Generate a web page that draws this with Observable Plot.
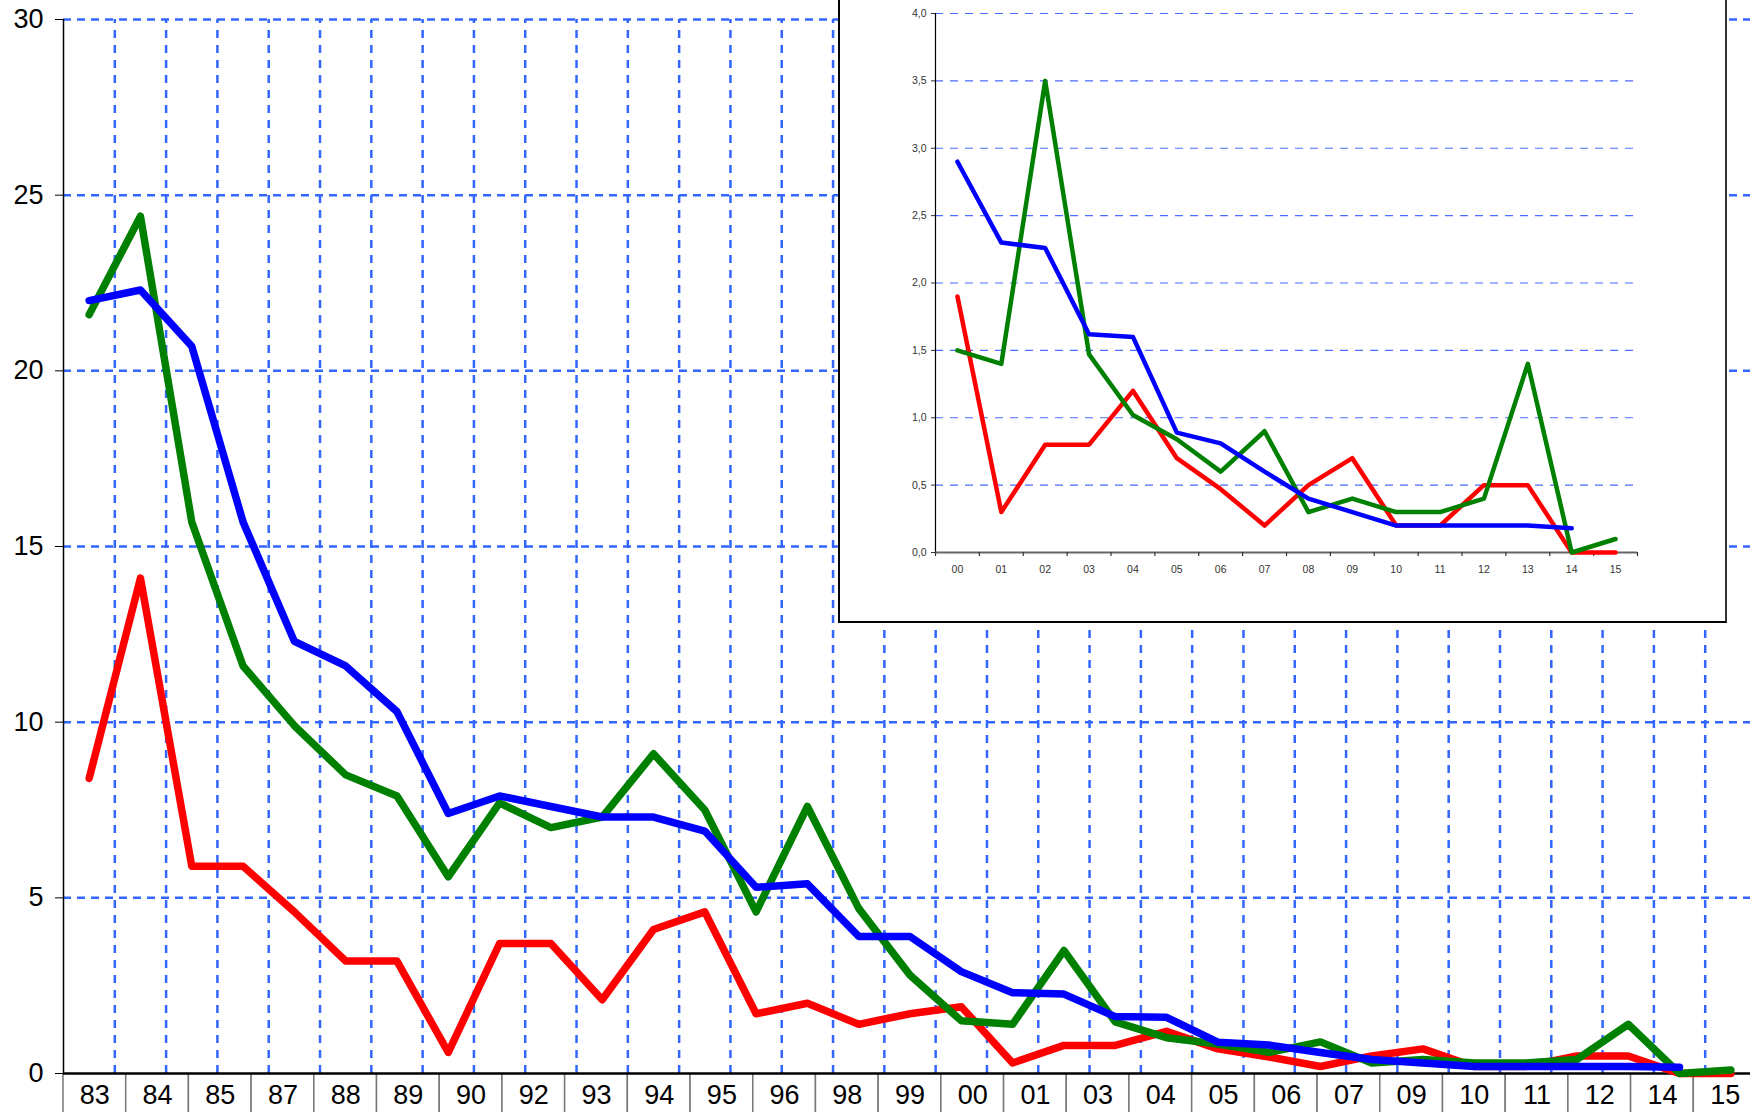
<!DOCTYPE html>
<html><head><meta charset="utf-8">
<script src="https://cdn.jsdelivr.net/npm/d3@7"></script>
<script src="https://cdn.jsdelivr.net/npm/@observablehq/plot@0.6"></script>
<style>
html,body{margin:0;padding:0;background:#fff;overflow:hidden;width:1750px;height:1112px;}
#wrap{position:relative;width:1750px;height:1112px;overflow:hidden;}
#table{position:absolute;left:0;top:1073px;}
#main{position:absolute;left:0;top:0;}
#inset{position:absolute;left:838px;top:-10px;width:889px;height:633px;box-sizing:border-box;border:2px solid #000;border-right-color:#333;background:#fff;}
#insetPlot{position:absolute;left:0;top:8px;}
</style></head>
<body><div id="wrap"><div id="table"></div><div id="main"></div><div id="inset"><div id="insetPlot"></div></div></div>
<script>
// ---- data ----
const years = [1983,1984,1985,1986,1987,1988,1989,1990,1991,1992,1993,1994,1995,1996,1997,1998,1999,
               2000,2001,2002,2003,2004,2005,2006,2007,2008,2009,2010,2011,2012,2013,2014,2015];
const tableLabels = ["83","84","85","87","88","89","90","92","93","94","95","96","98","99",
                     "00","01","03","04","05","06","07","09","10","11","12","14","15"];
const redValues   = [8.4,14.1,5.9,5.9,4.6,3.2,3.2,0.6,3.7,3.7,2.1,4.1,4.6,1.7,2.0,1.4,1.7,
                     1.9,0.3,0.8,0.8,1.2,0.7,0.47,0.2,0.5,0.7,0.2,0.2,0.5,0.5,0.0,0.0];
const greenValues = [21.6,24.4,15.7,11.6,9.9,8.5,7.9,5.6,7.7,7.0,7.3,9.1,7.5,4.6,7.6,4.7,2.8,
                     1.5,1.4,3.5,1.47,1.02,0.84,0.6,0.9,0.3,0.4,0.3,0.3,0.4,1.4,0.0,0.1];
const blueValues  = [22.0,22.3,20.7,15.7,12.3,11.6,10.3,7.4,7.9,7.6,7.3,7.3,6.9,5.3,5.4,3.9,3.9,
                     2.9,2.3,2.26,1.62,1.6,0.89,0.81,0.6,0.4,0.3,0.2,0.2,0.2,0.2,0.18,null];
const seriesNames  = ["red","green","blue"];
const seriesColors = ["#ff0000","#008000","#0000ff"];
const yTicks = [0,5,10,15,20,25,30];
const insetYTicks = [0,0.5,1,1.5,2,2.5,3,3.5,4];
const insetStartYear = 2000;

// ---- derived tables ----
const seriesValues = [redValues, greenValues, blueValues];
const rows = seriesNames.flatMap((name, s) =>
  years.map((year, i) => ({series: name, year, value: seriesValues[s][i]}))
       .filter(d => d.value != null));
const boundaries = years.slice(0, -1).map(y => y + 0.5);
const insetYears = years.filter(y => y >= insetStartYear);
const insetRows = rows.filter(d => d.year >= insetStartYear);
const insetBoundaries = insetYears.map(y => y - 0.5).concat([insetYears[insetYears.length - 1] + 0.5]);

const FONT = "'Liberation Sans', Arial, sans-serif";
const GRID = "#3366ff";

// ---- category strip below the main chart ----
const table = Plot.plot({
  width: 1756, height: 50, marginLeft: 63, marginRight: 0, marginTop: 0, marginBottom: 0,
  style: {background: "transparent", maxWidth: "none", fontFamily: FONT, fontSize: "27px", color: "#000"},
  x: {type: "band", domain: tableLabels, padding: 0, round: false, axis: null},
  marks: [
    Plot.cell(tableLabels, {x: d => d, fill: "#fff", stroke: "#777", strokeWidth: 1.5}),
    Plot.text(tableLabels, {x: d => d, text: d => d, frameAnchor: "top", dy: 22, lineAnchor: "middle", fontSize: 27, fill: "#000"})
  ]
});
document.getElementById("table").appendChild(table);

// ---- main chart ----
const main = Plot.plot({
  width: 1756, height: 1112, marginLeft: 63, marginRight: 0, marginTop: 19, marginBottom: 39,
  style: {background: "transparent", maxWidth: "none", fontFamily: FONT, fontSize: "27px", color: "#000", overflow: "visible"},
  x: {type: "linear", domain: [years[0] - 0.5, years[years.length - 1] + 0.5], axis: null},
  y: {domain: [0, 30], ticks: yTicks, tickSize: 8, tickPadding: 12, tickFormat: d => String(d), label: null},
  color: {domain: seriesNames, range: seriesColors},
  marks: [
    Plot.ruleY(yTicks.filter(v => v > 0), {stroke: GRID, strokeWidth: 2.5, strokeDasharray: "8,6"}),
    Plot.ruleX(boundaries, {y1: 0, y2: 30, stroke: GRID, strokeWidth: 2.5, strokeDasharray: "8,7"}),
    Plot.ruleX([years[0] - 0.5], {y1: 0, y2: 30, stroke: "#000", strokeWidth: 1.5}),
    Plot.ruleY([0], {stroke: "#000", strokeWidth: 2.5}),
    Plot.line(rows, {x: "year", y: "value", z: "series", stroke: "series", strokeWidth: 7.5,
                     strokeLinejoin: "round", strokeLinecap: "round"})
  ]
});
document.getElementById("main").appendChild(main);

// ---- inset chart (2000-2015) ----
const inset = Plot.plot({
  width: 885, height: 620, marginLeft: 95, marginRight: 88, marginTop: 13, marginBottom: 68,
  style: {background: "transparent", maxWidth: "none", fontFamily: FONT, fontSize: "10.5px", color: "#333"},
  x: {type: "linear", domain: [insetBoundaries[0], insetBoundaries[insetBoundaries.length - 1]],
      ticks: insetYears, tickSize: 0, tickPadding: 13,
      tickFormat: d => String(d % 100).padStart(2, "0"), label: null},
  y: {domain: [0, 4], ticks: insetYTicks, tickSize: 4, tickPadding: 5,
      tickFormat: d => d.toFixed(1).replace(".", ","), label: null},
  color: {domain: seriesNames, range: seriesColors},
  marks: [
    Plot.ruleY(insetYTicks.filter(v => v > 0), {stroke: "#4a6cff", strokeWidth: 1.2, strokeDasharray: "8,7"}),
    Plot.ruleX([insetBoundaries[0]], {y1: 0, y2: 4, stroke: "#000", strokeWidth: 1.2}),
    Plot.ruleY([0], {stroke: "#666", strokeWidth: 2}),
    Plot.ruleX(insetBoundaries, {y1: 0, y2: -0.03, stroke: "#333", strokeWidth: 1.2}),
    Plot.line(insetRows, {x: "year", y: "value", z: "series", stroke: "series", strokeWidth: 4.5,
                          strokeLinejoin: "round", strokeLinecap: "round"})
  ]
});
document.getElementById("insetPlot").appendChild(inset);
</script></body></html>
